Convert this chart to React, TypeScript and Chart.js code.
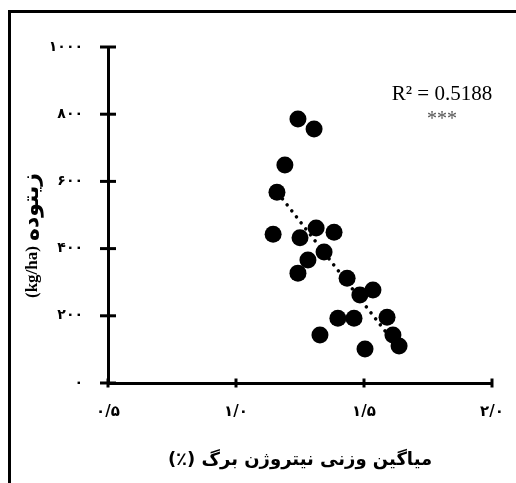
import React, { useEffect, useRef } from 'react';
import { Chart, registerables } from 'chart.js';

Chart.register(...registerables);

// Leaf nitrogen weighted mean (%)
const nitrogen = [
  1.242, 1.305, 1.191, 1.16, 1.145, 1.25, 1.313, 1.383, 1.344, 1.281, 1.242,
  1.434, 1.484, 1.535, 1.398, 1.461, 1.59, 1.328, 1.613, 1.504, 1.637,
];
// Biomass (kg/ha)
const biomass = [
  786, 756, 649, 568, 443, 432, 461, 449, 390, 366, 327,
  312, 262, 277, 193, 193, 196, 143, 143, 101, 110,
];

const xTickValues = [0.5, 1.0, 1.5, 2.0];
const xTickLabels = ['۰/۵', '۱/۰', '۱/۵', '۲/۰'];
const yTickValues = [0, 200, 400, 600, 800, 1000];
const yTickLabels = ['۰', '۲۰۰', '۴۰۰', '۶۰۰', '۸۰۰', '۱۰۰۰'];

const xTitle = 'میاگین وزنی نیتروژن برگ (٪)';
const yTitleUnit = '(kg/ha)';
const yTitleWord = 'زیتوده';
const r2Label = 'R² = 0.5188';
const sigLabel = '***';

function regression(xs: number[], ys: number[]) {
  const n = xs.length;
  const mx = xs.reduce((a, b) => a + b, 0) / n;
  const my = ys.reduce((a, b) => a + b, 0) / n;
  let sxy = 0;
  let sxx = 0;
  for (let i = 0; i < n; i++) {
    sxy += (xs[i] - mx) * (ys[i] - my);
    sxx += (xs[i] - mx) * (xs[i] - mx);
  }
  const slope = sxy / sxx;
  return { slope, intercept: my - slope * mx };
}

export default function App() {
  const ref = useRef<HTMLCanvasElement | null>(null);

  useEffect(() => {
    if (!ref.current) return;
    const { slope, intercept } = regression(nitrogen, biomass);
    const xMin = Math.min(...nitrogen);
    const xMax = Math.max(...nitrogen);
    const trend = [
      { x: xMin, y: intercept + slope * xMin },
      { x: xMax, y: intercept + slope * xMax },
    ];

    const decorations = {
      id: 'decorations',
      afterDraw(chart: any) {
        const { ctx, chartArea, scales } = chart;
        const xs = scales.x;
        const ys = scales.y;
        ctx.save();
        ctx.strokeStyle = '#000';
        ctx.lineWidth = 3;
        yTickValues.forEach((v) => {
          const py = ys.getPixelForValue(v);
          ctx.beginPath();
          ctx.moveTo(chartArea.left - 8, py);
          ctx.lineTo(chartArea.left + 8, py);
          ctx.stroke();
        });
        xTickValues.forEach((v) => {
          const px = xs.getPixelForValue(v);
          ctx.beginPath();
          ctx.moveTo(px, chartArea.bottom - 4.5);
          ctx.lineTo(px, chartArea.bottom + 4.5);
          ctx.stroke();
        });
        // y-axis title: unit at the bottom, word above it (rotated)
        ctx.save();
        ctx.translate(33, chartArea.bottom - 85);
        ctx.rotate(-Math.PI / 2);
        ctx.fillStyle = '#000';
        ctx.textBaseline = 'middle';
        ctx.textAlign = 'left';
        ctx.font = 'bold 17px "Liberation Serif", serif';
        ctx.fillText(yTitleUnit, 0, 0);
        const w = ctx.measureText(yTitleUnit).width;
        ctx.font = 'bold 22px "DejaVu Sans", sans-serif';
        ctx.fillText(yTitleWord, w + 5, -1);
        ctx.restore();
        // R² annotation
        ctx.font = '21px "Liberation Serif", serif';
        ctx.textAlign = 'center';
        ctx.textBaseline = 'alphabetic';
        ctx.fillStyle = '#000';
        ctx.fillText(r2Label, chartArea.right - 50, chartArea.top + 53);
        ctx.fillStyle = '#555';
        ctx.font = '20px "Liberation Serif", serif';
        ctx.fillText(sigLabel, chartArea.right - 50, chartArea.top + 78);
        ctx.restore();
      },
    };

    const chart = new Chart(ref.current, {
      type: 'scatter',
      data: {
        datasets: [
          {
            label: 'data',
            data: nitrogen.map((x, i) => ({ x, y: biomass[i] })),
            backgroundColor: '#000',
            borderWidth: 0,
            pointRadius: 8.5,
            pointHoverRadius: 8.5,
          },
          {
            label: 'trend',
            type: 'line',
            data: trend,
            showLine: true,
            borderColor: '#000',
            borderWidth: 3.5,
            borderDash: [0.1, 7.5],
            borderCapStyle: 'round',
            pointRadius: 0,
            fill: false,
          } as any,
        ],
      },
      options: {
        animation: false,
        responsive: true,
        maintainAspectRatio: false,
        layout: { padding: { left: 0, right: 24, top: 47, bottom: 0 } },
        plugins: {
          legend: { display: false },
          tooltip: { enabled: false },
        },
        scales: {
          x: {
            type: 'linear',
            min: 0.5,
            max: 2.0,
            afterFit: (s: any) => {
              s.height = 100;
              s.paddingLeft = 0;
              s.paddingRight = 0;
            },
            afterBuildTicks: (s: any) => {
              s.ticks = xTickValues.map((v) => ({ value: v }));
            },
            ticks: {
              padding: 20,
              color: '#000',
              font: { family: '"DejaVu Sans", sans-serif', size: 15, weight: 'bold' },
              callback: (v: any) => {
                const i = xTickValues.findIndex((t) => Math.abs(t - Number(v)) < 1e-6);
                return i >= 0 ? xTickLabels[i] : '';
              },
            },
            grid: { display: false, drawTicks: false },
            border: { display: true, color: '#000', width: 3 },
            title: {
              display: true,
              text: '\u202B' + xTitle + '\u202C',
              color: '#000',
              font: { family: '"DejaVu Sans", sans-serif', size: 18, weight: 'bold' },
              padding: { top: 0, bottom: 12 },
            },
          },
          y: {
            type: 'linear',
            min: 0,
            max: 1000,
            afterFit: (s: any) => {
              s.width = 108;
            },
            afterBuildTicks: (s: any) => {
              s.ticks = yTickValues.map((v) => ({ value: v }));
            },
            ticks: {
              padding: 25,
              color: '#000',
              font: { family: '"DejaVu Sans", sans-serif', size: 14, weight: 'bold' },
              callback: (v: any) => {
                const i = yTickValues.indexOf(Number(v));
                return i >= 0 ? yTickLabels[i] : '';
              },
            },
            grid: { display: false, drawTicks: false },
            border: { display: true, color: '#000', width: 3 },
          },
        },
      },
      plugins: [decorations],
    });

    return () => chart.destroy();
  }, []);

  return (
    <div style={{ position: 'fixed', left: 0, top: 0, width: 516, height: 483, overflow: 'hidden', background: '#fff' }}>
      <div
        style={{
          position: 'absolute',
          left: 8,
          top: 10,
          width: 700,
          height: 700,
          borderLeft: '3px solid #000',
          borderTop: '3px solid #000',
        }}
      />
      <canvas ref={ref} style={{ position: 'absolute', left: 0, top: 0 }} />
    </div>
  );
}
